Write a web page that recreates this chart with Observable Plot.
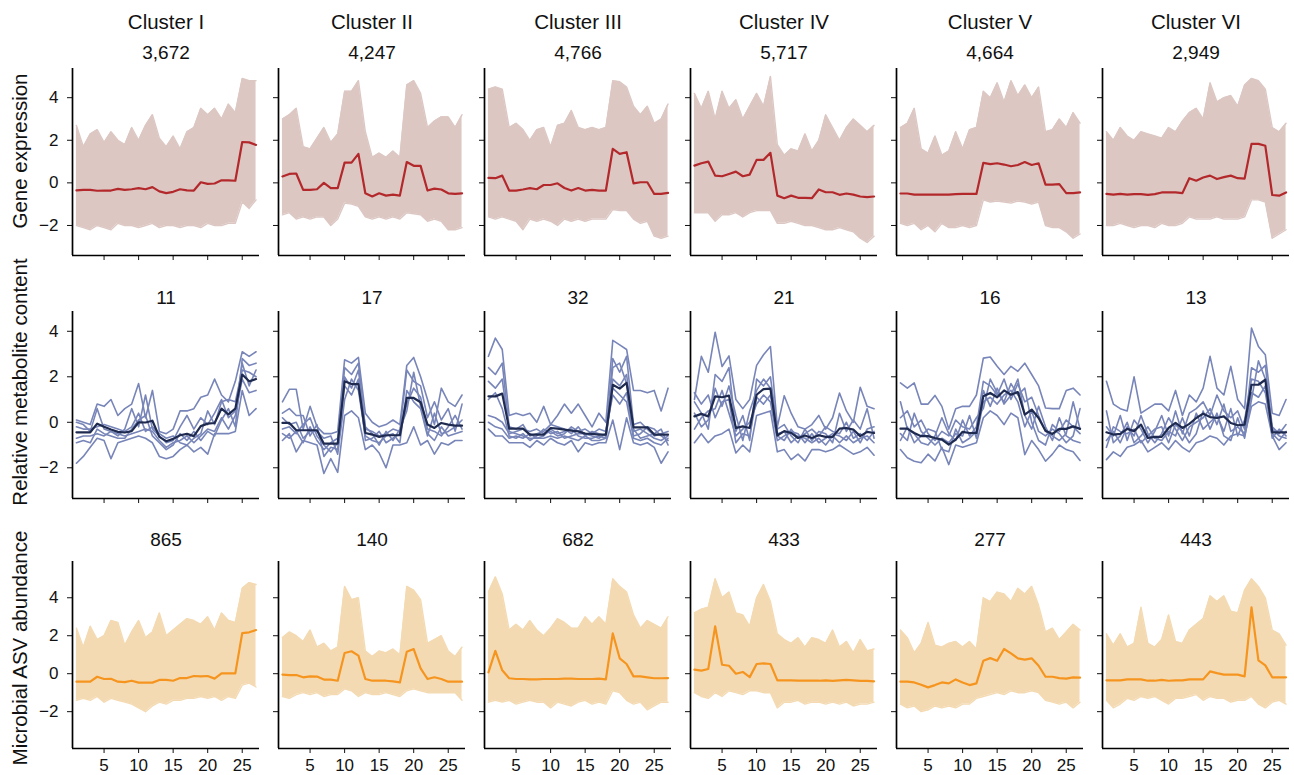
<!DOCTYPE html>
<html><head><meta charset="utf-8">
<script src="https://cdn.jsdelivr.net/npm/d3@7"></script>
<script src="https://cdn.jsdelivr.net/npm/@observablehq/plot@0.6"></script>
<style>
body{margin:0;background:#fff;font-family:"Liberation Sans",Arial,sans-serif;}
#root{position:relative;width:1294px;height:775px;}
</style>
</head><body><div id="root"></div>
<script>
// ---------------- data ----------------
const clusters = ["Cluster I","Cluster II","Cluster III","Cluster IV","Cluster V","Cluster VI"];
const rowTitles = ["Gene expression","Relative metabolite content","Microbial ASV abundance"];
const timepoints = [1,2,3,4,5,6,7,8,9,10,11,12,13,14,15,16,17,18,19,20,21,22,23,24,25,26,27];
const xTicks = [5,10,15,20,25];
const yTicks = [-2,0,2,4];

const geneCounts = [3672,4247,4766,5717,4664,2949];
const metCounts = [11,17,32,21,16,13];
const asvCounts = [865,140,682,433,277,443];

// Gene expression: cluster mean and envelope of all genes
const geneMean = [
 [-0.35,-0.33,-0.33,-0.37,-0.36,-0.36,-0.28,-0.33,-0.3,-0.25,-0.3,-0.2,-0.4,-0.48,-0.42,-0.3,-0.35,-0.36,0.03,-0.05,-0.03,0.12,0.12,0.1,1.92,1.9,1.78],
 [0.3,0.42,0.44,-0.33,-0.33,-0.3,0.0,-0.25,-0.25,0.95,0.95,1.36,-0.49,-0.64,-0.49,-0.6,-0.55,-0.6,0.98,0.8,0.8,-0.36,-0.27,-0.31,-0.49,-0.52,-0.49],
 [0.23,0.22,0.34,-0.36,-0.36,-0.31,-0.25,-0.3,-0.1,-0.1,-0.02,-0.24,-0.36,-0.24,-0.36,-0.33,-0.36,-0.36,1.6,1.36,1.44,-0.02,0.03,0.03,-0.52,-0.52,-0.47],
 [0.81,0.92,1.0,0.34,0.31,0.42,0.53,0.31,0.39,1.08,1.08,1.41,-0.6,-0.72,-0.6,-0.7,-0.7,-0.72,-0.31,-0.44,-0.44,-0.56,-0.5,-0.55,-0.64,-0.67,-0.64],
 [-0.5,-0.5,-0.55,-0.55,-0.55,-0.55,-0.55,-0.55,-0.53,-0.52,-0.52,-0.52,0.94,0.88,0.92,0.86,0.78,0.84,0.98,0.84,0.92,-0.08,-0.08,-0.06,-0.48,-0.48,-0.45],
 [-0.52,-0.55,-0.52,-0.55,-0.53,-0.53,-0.56,-0.53,-0.45,-0.45,-0.45,-0.48,0.22,0.1,0.25,0.34,0.18,0.27,0.34,0.22,0.2,1.83,1.83,1.74,-0.57,-0.6,-0.45]
];
const geneUpper = [
 [2.7,1.7,2.3,2.5,1.9,2.4,2.0,1.8,2.6,2.0,2.7,3.2,2.1,1.7,2.2,1.6,2.4,2.6,3.5,3.2,3.5,3.0,3.7,3.3,4.9,4.8,4.8],
 [3.0,3.2,3.5,1.7,1.6,2.1,2.6,1.9,2.3,4.3,4.3,4.8,2.4,1.2,1.4,1.2,1.5,1.2,4.6,4.8,4.2,2.6,2.9,3.1,3.1,2.6,3.2],
 [4.4,4.5,4.4,2.6,2.8,2.5,2.0,2.5,2.6,1.7,2.7,2.8,3.4,2.6,2.5,2.6,2.5,2.6,4.8,4.75,4.5,3.6,3.2,3.6,2.8,3.0,3.7],
 [4.2,3.5,4.3,3.0,4.3,3.5,3.9,3.0,3.6,4.2,3.6,5.0,1.8,1.3,1.6,1.5,2.3,1.5,2.0,3.2,2.6,2.0,2.6,3.0,2.7,2.4,2.7],
 [2.6,2.8,3.5,1.6,1.4,2.2,1.3,1.5,2.4,1.6,2.5,2.6,4.3,4.0,4.7,3.8,4.8,4.1,4.6,4.0,4.5,2.4,2.5,3.0,2.6,3.3,2.8],
 [2.4,2.0,2.6,2.2,2.0,2.4,2.3,2.2,2.1,2.6,2.4,2.9,3.3,3.5,3.0,4.7,3.8,4.0,4.1,3.6,4.6,4.9,4.8,4.4,2.6,2.4,2.8]
];
const geneLower = [
 [-2.0,-2.1,-2.2,-2.0,-2.1,-2.2,-1.9,-2.0,-2.0,-2.1,-2.0,-1.9,-2.1,-2.0,-2.0,-2.1,-2.0,-2.0,-2.1,-1.9,-2.0,-2.0,-1.9,-1.9,-0.9,-1.2,-0.8],
 [-1.5,-1.4,-1.7,-1.6,-1.7,-1.6,-1.6,-2.0,-1.7,-0.95,-1.0,-1.1,-1.6,-1.7,-1.6,-1.7,-1.6,-1.7,-1.4,-1.45,-1.5,-1.8,-1.7,-1.8,-2.2,-2.2,-2.1],
 [-1.6,-1.7,-1.6,-1.7,-1.8,-2.2,-1.7,-1.8,-1.7,-1.8,-2.0,-1.7,-1.8,-1.7,-1.8,-1.7,-1.7,-1.7,-1.25,-1.3,-1.3,-1.7,-1.9,-1.8,-2.5,-2.6,-2.5],
 [-1.4,-1.4,-1.4,-1.8,-1.5,-1.5,-1.4,-1.6,-1.4,-1.3,-1.3,-1.3,-1.9,-1.9,-1.8,-1.9,-2.0,-2.0,-2.1,-2.2,-2.2,-2.1,-2.2,-2.3,-2.6,-2.8,-2.5],
 [-1.9,-2.0,-1.9,-2.2,-2.0,-2.3,-1.9,-2.1,-2.1,-2.0,-2.1,-2.0,-0.8,-0.9,-0.85,-0.9,-0.95,-0.85,-0.9,-1.0,-0.9,-2.0,-2.1,-2.1,-2.3,-2.6,-2.4],
 [-2.0,-2.0,-1.9,-2.0,-2.1,-2.0,-2.0,-2.1,-1.9,-2.0,-2.0,-1.9,-1.6,-1.7,-1.7,-1.7,-1.6,-1.7,-1.7,-1.7,-1.6,-0.8,-0.8,-0.9,-2.6,-2.4,-2.2]
];

// Metabolites: cluster mean and individual metabolite profiles
const metMean = [
 [-0.44,-0.44,-0.44,-0.06,-0.2,-0.32,-0.42,-0.45,-0.39,0.0,-0.01,0.07,-0.64,-0.83,-0.73,-0.57,-0.51,-0.61,-0.17,-0.06,-0.03,0.6,0.35,0.6,2.1,1.8,1.9],
 [-0.03,-0.03,-0.35,-0.35,-0.35,-0.35,-0.94,-0.94,-0.94,1.8,1.68,1.68,-0.47,-0.54,-0.64,-0.57,-0.57,-0.57,1.07,1.07,0.88,-0.1,-0.25,-0.03,-0.1,-0.15,-0.15],
 [1.14,1.14,1.26,-0.28,-0.28,-0.28,-0.54,-0.54,-0.54,-0.25,-0.28,-0.32,-0.37,-0.4,-0.5,-0.51,-0.54,-0.54,1.65,1.48,1.73,-0.22,-0.22,-0.22,-0.54,-0.54,-0.54],
 [0.26,0.37,0.26,1.14,1.1,1.17,-0.25,-0.18,-0.25,1.21,1.46,1.48,-0.58,-0.39,-0.47,-0.69,-0.58,-0.69,-0.57,-0.64,-0.64,-0.28,-0.25,-0.32,-0.61,-0.42,-0.47],
 [-0.28,-0.28,-0.47,-0.61,-0.61,-0.69,-0.76,-0.98,-0.76,-0.42,-0.47,-0.47,1.14,1.29,1.1,1.4,1.21,1.33,0.34,0.56,0.19,-0.37,-0.51,-0.29,-0.29,-0.18,-0.29],
 [-0.44,-0.54,-0.51,-0.29,-0.39,-0.1,-0.69,-0.64,-0.64,-0.25,-0.03,-0.25,-0.07,0.19,0.38,0.23,0.19,0.26,-0.03,-0.13,-0.1,1.65,1.65,1.87,-0.44,-0.44,-0.44]
];
const metLines = [
 [
  [0.1,0.0,-0.1,0.8,0.7,1.0,0.3,0.6,0.8,1.7,0.2,1.4,-0.4,-0.5,-0.3,0.5,0.5,0.6,1.1,1.2,1.9,1.2,0.9,1.8,3.1,2.9,3.1],
  [-1.8,-1.5,-1.1,-0.7,-0.8,-1.6,-0.9,-0.8,-0.7,-0.6,-0.7,-0.9,-1.5,-1.6,-1.5,-1.2,-1.0,-1.3,-1.1,-1.4,-0.5,-0.5,-0.5,-0.4,1.4,0.3,0.6],
  [0.0,-0.1,-0.4,0.6,-0.3,-0.4,-0.6,-0.3,0.6,-0.2,1.2,-0.3,-0.6,-0.9,-0.8,-0.2,0.3,-0.3,0.2,-0.1,0.4,1.0,0.2,0.5,2.6,1.6,2.3],
  [-0.7,-0.6,-0.6,-0.5,-0.6,-0.4,-0.5,-0.6,-0.5,-0.4,-0.3,-0.4,-0.8,-1.1,-0.9,-0.8,-0.6,-0.9,-0.6,-0.3,-0.4,0.2,-0.3,0.3,1.9,1.3,1.4],
  [-0.2,-0.3,-0.3,-0.2,-0.1,-0.2,-0.3,-0.4,-0.2,0.4,-0.4,-0.2,-0.5,-0.7,-0.6,-0.9,-1.0,-0.7,-0.5,0.5,-0.1,0.9,1.0,0.9,2.3,2.2,2.0],
  [-0.9,-0.8,-0.9,-0.3,-0.5,-0.6,-0.7,-0.7,-0.3,0.1,0.3,-0.6,-0.9,-1.2,-1.0,-0.5,-0.8,-0.4,-0.8,-0.4,-0.6,0.1,0.6,-0.2,2.8,2.5,2.6]
 ],
 [
  [0.9,1.45,1.45,-0.3,0.7,-0.2,-0.5,-0.5,-0.4,2.75,2.6,2.85,0.4,0.0,-0.2,-0.1,0.1,-0.1,2.5,2.85,2.0,1.0,-0.1,1.5,0.9,0.7,1.2],
  [-0.8,-0.5,-1.3,-0.8,-0.9,-1.0,-2.25,-1.6,-2.2,0.3,0.5,0.2,-1.2,-1.0,-1.35,-2.0,-1.0,-1.0,-0.9,-0.2,-1.0,-0.8,-1.4,-0.9,-1.0,-0.8,-0.8],
  [0.4,0.6,0.3,0.3,-0.6,-0.1,-1.5,-1.1,-1.2,2.4,2.1,2.6,-0.3,-0.4,-0.6,-0.5,-0.3,-0.4,2.3,1.8,1.6,0.2,0.9,0.1,0.6,-0.4,0.8],
  [-0.3,-0.2,-0.5,-0.1,0.2,-0.6,-1.0,-1.3,-0.9,1.6,1.2,1.9,-0.8,-0.7,-0.4,-0.9,-0.7,-0.5,0.8,1.5,1.1,-0.3,-0.4,-0.6,-0.2,0.3,-0.3],
  [0.2,-0.1,0.0,-0.7,-0.4,-0.4,-0.7,-0.6,-1.4,1.0,1.9,1.4,-0.6,-0.8,-0.9,-0.6,-0.5,-0.9,1.4,0.9,0.6,-0.6,0.4,-0.5,-0.4,-0.2,0.1],
  [-0.5,-0.7,-0.4,-0.9,-0.2,-0.8,-1.2,-0.9,-0.7,2.0,1.5,2.3,-0.2,-0.5,-1.0,-0.4,-0.8,-0.3,0.5,2.2,0.7,-0.5,-0.8,-0.2,-0.6,-0.5,-0.4]
 ],
 [
  [2.9,3.7,3.2,0.3,0.4,0.3,0.4,0.0,0.7,-0.1,0.3,0.8,0.4,0.8,0.3,-0.2,0.4,0.0,3.6,3.4,3.2,1.4,1.4,1.3,1.4,0.5,1.5],
  [-0.3,-0.6,-0.6,-0.9,-0.9,-0.9,-1.1,-0.8,-1.0,-0.7,-0.9,-1.0,-0.8,-1.3,-0.9,-1.0,-0.9,-0.9,0.1,-1.2,0.2,-0.9,-1.0,-0.9,-1.1,-1.8,-1.3],
  [2.4,2.1,2.6,-0.2,-0.3,-0.1,-0.6,-0.5,-0.4,-0.1,-0.2,-0.3,-0.5,-0.2,-0.6,-0.4,-0.5,-0.6,2.8,2.2,2.9,-0.1,0.0,-0.3,-0.6,-0.5,-0.4],
  [1.8,1.5,1.9,-0.4,-0.5,-0.6,-0.7,-0.7,-0.6,-0.3,-0.5,-0.4,-0.3,-0.6,-0.7,-0.7,-0.6,-0.7,1.9,1.6,2.1,-0.4,-0.3,-0.5,-0.7,-0.8,-0.6],
  [0.3,0.2,0.0,-0.5,-0.4,-0.3,-0.4,-0.3,-0.5,-0.4,-0.6,-0.5,-0.2,-0.4,-0.3,-0.5,-0.3,-0.4,1.2,0.8,1.3,-0.6,-0.5,-0.2,-0.3,-0.6,-0.8],
  [1.0,1.3,0.6,-0.6,-0.7,-0.5,-0.8,-0.6,-0.3,-0.5,-0.4,-0.7,-0.6,-0.5,-0.5,-0.6,-0.7,-0.5,2.4,2.6,1.7,-0.3,-0.7,-0.6,-0.5,-0.3,-1.0],
  [0.0,-0.2,-0.3,-0.7,-0.6,-0.7,-0.5,-0.7,-0.7,-0.6,-0.7,-0.6,-0.7,-0.8,-0.6,-0.8,-0.8,-0.7,1.5,1.2,0.9,-0.7,-0.8,-0.7,-0.9,-1.0,-0.7]
 ],
 [
  [1.0,2.9,2.2,3.96,2.45,2.92,1.0,0.6,1.0,2.5,2.97,3.33,-0.2,1.17,0.4,-0.2,-0.3,-0.1,0.3,-0.3,0.2,1.29,0.5,0.0,1.54,0.7,0.6],
  [-0.9,-0.5,-0.9,-0.6,-0.5,-0.3,-1.35,-1.0,-1.3,0.3,0.4,0.5,-1.3,-1.2,-1.64,-1.4,-1.7,-1.2,-1.2,-1.3,-1.2,-1.0,-1.2,-1.4,-1.3,-1.1,-1.45],
  [0.9,0.4,-0.3,2.1,1.8,2.4,-0.4,0.3,-0.8,1.9,1.6,2.0,-0.3,-0.1,-0.6,-0.9,-0.3,-0.8,-0.4,-0.5,-0.9,0.4,-0.4,0.1,-0.3,0.6,-0.7],
  [-0.3,0.2,0.5,0.6,1.4,0.4,-0.6,-0.3,0.0,0.8,1.2,0.9,-0.8,-0.6,-0.4,-0.5,-0.9,-0.5,-0.9,-0.7,-0.5,-0.6,-0.8,-0.4,-0.9,-0.3,-0.2],
  [0.4,-0.2,0.1,1.5,0.7,1.6,0.3,-0.8,0.5,1.4,1.9,1.5,-0.6,-0.8,-0.3,-0.7,-0.5,-0.3,-0.6,-0.2,-0.4,-0.5,0.0,-0.7,-0.5,-0.8,-0.4],
  [1.3,0.8,1.2,0.2,0.9,1.0,-0.9,-0.5,-0.6,1.1,0.8,1.2,-0.5,-0.4,-0.9,-0.6,-0.7,-0.9,-0.7,-1.0,-0.6,-0.9,-0.6,-0.9,-0.7,-0.6,-0.9]
 ],
 [
  [1.73,1.5,1.73,0.8,0.8,1.18,0.7,-0.3,0.6,0.7,0.7,1.2,2.82,2.87,2.46,2.1,2.46,2.24,2.6,2.1,1.6,0.63,0.6,0.6,1.4,1.5,1.2],
  [-1.2,-1.56,-1.71,-1.78,-1.4,-1.7,-1.1,-1.86,-1.0,-1.1,-1.0,-0.9,0.2,0.5,0.3,-0.1,0.4,0.2,-1.42,-0.8,-1.2,-1.71,-1.4,-1.0,-1.2,-1.3,-1.68],
  [0.9,-0.3,-0.5,-0.9,-1.0,-0.6,0.2,-0.5,-0.8,0.1,-0.6,-0.2,1.8,1.6,1.2,1.9,1.0,1.7,0.9,1.1,0.3,-0.4,-0.6,-0.8,-0.5,0.9,-0.3],
  [-0.5,-0.8,0.4,-0.4,-0.7,-1.0,-0.7,-0.9,-0.5,-0.6,0.3,-0.7,0.9,1.1,0.8,1.2,1.4,0.9,-0.2,0.5,-0.4,-0.6,-0.3,-0.5,-0.9,-0.6,0.6],
  [-0.8,-0.2,-0.9,-0.6,-0.3,-0.4,-1.2,-1.3,-0.3,-0.9,-0.7,-0.4,1.4,0.7,1.5,0.8,1.2,1.9,0.3,-0.3,0.7,-0.2,-0.8,0.2,-0.6,-0.8,-0.9],
  [0.2,0.5,-0.2,0.1,-0.5,-0.8,-0.4,-0.6,0.1,-0.2,-0.3,0.2,0.6,1.9,1.3,0.9,1.7,1.2,1.5,0.0,-0.8,-1.0,-0.1,-0.4,0.1,-0.2,-0.5]
 ],
 [
  [1.8,0.8,0.6,0.5,2.0,0.4,0.6,0.8,0.8,0.5,1.4,0.3,1.2,0.9,1.5,2.9,1.5,1.2,2.46,1.0,0.6,4.14,3.33,2.97,0.4,0.3,1.0],
  [-1.64,-1.3,-1.5,-1.1,-1.0,-0.8,-1.3,-1.1,-0.9,-1.2,-0.8,-1.1,-1.3,-0.9,-0.8,-0.6,-0.7,-1.0,-0.6,-0.5,-0.6,0.7,0.9,0.8,-0.6,-1.2,-0.9],
  [-0.2,-0.6,0.3,-0.8,0.1,-0.3,-0.9,-0.4,0.3,-0.6,0.5,-0.5,0.4,0.6,0.9,0.3,1.2,0.5,0.2,0.5,-0.3,2.4,2.2,2.5,-0.2,-0.5,-0.1],
  [-0.8,-0.4,-0.9,-0.2,-0.6,0.3,-0.5,-0.9,-0.5,0.2,-0.3,-0.8,-0.2,0.0,0.2,0.6,-0.1,0.8,-0.4,-0.2,-0.5,1.3,1.1,1.6,-0.7,-0.3,-0.6],
  [0.5,-0.9,-0.6,0.0,-0.9,-0.6,-0.2,-0.7,-0.8,-0.4,-0.6,0.2,-0.6,0.4,-0.3,0.0,0.3,-0.4,0.6,-0.6,0.1,1.9,1.8,1.3,-0.5,-0.8,-0.4],
  [-1.1,-0.2,-0.4,-0.5,-0.3,-0.9,-0.6,-0.3,-0.2,-0.9,-0.1,-0.4,-0.9,-0.5,0.5,-0.3,0.4,-0.6,-0.8,0.2,-0.7,1.0,2.7,1.9,-0.3,-0.6,-0.7]
 ]
];

// Microbial ASVs: cluster mean and envelope of all ASVs
const asvMean = [
 [-0.42,-0.42,-0.42,-0.16,-0.28,-0.27,-0.42,-0.44,-0.37,-0.47,-0.47,-0.47,-0.33,-0.33,-0.37,-0.23,-0.23,-0.12,-0.14,-0.12,-0.26,0.02,0.02,0.02,2.14,2.18,2.3],
 [-0.05,-0.08,-0.07,-0.19,-0.14,-0.15,-0.31,-0.31,-0.37,1.09,1.18,0.95,-0.28,-0.37,-0.37,-0.37,-0.4,-0.46,1.16,1.3,0.28,-0.28,-0.19,-0.28,-0.42,-0.42,-0.42],
 [0.07,1.2,0.18,-0.24,-0.28,-0.28,-0.3,-0.3,-0.28,-0.28,-0.28,-0.26,-0.26,-0.28,-0.28,-0.28,-0.26,-0.3,2.12,0.81,0.51,-0.14,-0.14,-0.19,-0.24,-0.24,-0.23],
 [0.21,0.16,0.25,2.49,0.47,0.42,0.0,0.09,-0.18,0.51,0.54,0.51,-0.35,-0.35,-0.35,-0.36,-0.36,-0.37,-0.37,-0.35,-0.38,-0.35,-0.33,-0.35,-0.38,-0.38,-0.4],
 [-0.42,-0.42,-0.46,-0.58,-0.72,-0.6,-0.46,-0.51,-0.3,-0.46,-0.6,-0.51,0.68,0.82,0.68,1.3,1.07,0.81,0.74,0.81,0.42,-0.16,-0.16,-0.23,-0.26,-0.19,-0.21],
 [-0.35,-0.35,-0.35,-0.3,-0.3,-0.3,-0.37,-0.37,-0.33,-0.37,-0.35,-0.35,-0.3,-0.3,-0.3,0.12,0.03,-0.05,-0.05,-0.05,-0.14,3.49,0.7,0.44,-0.19,-0.19,-0.19]
];
const asvUpper = [
 [2.4,1.4,2.5,1.8,2.0,2.8,2.7,1.5,2.2,2.8,1.9,2.2,3.2,2.0,2.3,2.6,2.9,2.8,2.6,3.0,2.3,3.2,2.8,2.7,4.5,4.8,4.7],
 [1.9,2.2,2.0,1.7,2.3,1.4,1.6,1.2,1.4,4.6,3.9,4.0,1.2,0.9,1.2,1.1,1.3,1.0,4.6,4.4,3.9,1.6,1.8,2.0,1.2,0.9,1.4],
 [4.3,5.1,4.2,2.3,2.6,2.3,2.8,2.3,2.0,2.4,2.9,2.7,2.4,2.4,3.0,2.6,3.0,2.6,5.0,4.6,4.3,3.1,2.4,2.8,2.6,2.4,3.0],
 [3.2,3.4,3.5,5.0,4.0,4.3,3.2,3.1,2.5,4.0,4.7,3.8,2.1,1.8,1.6,1.9,1.4,1.9,1.8,1.6,2.3,1.4,1.7,1.1,1.8,1.2,1.3],
 [2.3,1.9,1.1,1.6,2.7,1.5,1.4,1.6,1.7,1.4,1.7,1.3,4.0,3.8,4.3,4.2,3.8,4.5,4.2,4.6,3.6,2.2,2.4,1.8,2.2,2.6,2.3],
 [2.1,1.5,2.1,1.4,1.6,3.5,1.6,1.4,1.8,3.1,1.7,1.6,2.3,2.6,2.9,4.1,3.8,4.1,3.3,3.2,4.4,5.0,4.6,4.0,2.3,2.1,1.5]
];
const asvLower = [
 [-1.4,-1.3,-1.4,-1.2,-1.5,-1.3,-1.4,-1.5,-1.6,-1.8,-2.0,-1.7,-1.5,-1.6,-1.4,-1.4,-1.3,-1.3,-1.2,-1.3,-1.2,-1.4,-1.2,-1.3,-0.6,-0.5,-0.7],
 [-1.2,-1.3,-1.1,-1.0,-1.1,-1.0,-1.2,-1.1,-1.1,-0.8,-0.9,-1.2,-1.0,-1.1,-1.1,-1.0,-1.1,-1.2,-0.9,-0.8,-0.9,-1.0,-1.0,-1.0,-1.0,-1.0,-1.4],
 [-1.5,-1.4,-1.5,-1.4,-1.6,-1.5,-1.4,-1.5,-1.5,-1.8,-1.5,-1.6,-1.7,-1.5,-1.4,-1.6,-1.5,-1.6,-0.9,-1.0,-1.4,-1.6,-1.5,-1.9,-1.7,-1.5,-1.5],
 [-1.0,-1.2,-1.3,-1.0,-1.2,-0.9,-1.0,-1.1,-0.9,-0.9,-1.0,-1.0,-1.8,-1.5,-1.5,-1.4,-1.6,-1.5,-1.5,-1.6,-1.5,-1.6,-1.5,-1.7,-1.6,-1.6,-1.5],
 [-1.6,-1.8,-1.7,-2.0,-1.9,-1.7,-1.8,-1.7,-1.8,-1.6,-1.6,-1.3,-1.2,-1.1,-1.0,-1.1,-0.9,-1.0,-1.0,-0.9,-1.0,-1.4,-1.5,-1.6,-1.5,-1.8,-1.5],
 [-1.4,-1.8,-1.6,-1.3,-1.4,-1.2,-1.3,-1.2,-1.4,-1.6,-1.3,-1.3,-1.2,-1.1,-1.4,-1.2,-1.3,-1.3,-1.5,-1.4,-1.4,-1.2,-1.6,-1.8,-1.5,-1.4,-1.6]
];

// ---------------- layout & style ----------------
const FONT = '"Liberation Sans", Arial, Helvetica, sans-serif';
const xDomain = [0.43, 27.5];
const panelW = 187, panelH = 187;
const colLeft = [72, 278, 484, 690, 896, 1102];
const rows = [
  {domain:[-3.41,5.37], top:68,    countDy:-16,   type:"band",  fill:"#dcc7c3", mean:"#b3282b", titleY:151,
   counts:geneCounts, meanData:geneMean, upper:geneUpper, lower:geneLower},
  {domain:[-3.35,4.87], top:310.5, countDy:-14,   type:"lines", stroke:"#7885b8", mean:"#1e2a4f", titleY:382,
   counts:metCounts, meanData:metMean, lines:metLines},
  {domain:[-3.94,5.91], top:561,   countDy:-21.5, type:"band",  fill:"#f4dab2", mean:"#f5951f", titleY:648,
   counts:asvCounts, meanData:asvMean, upper:asvUpper, lower:asvLower}
];
const fmt = d3.format(",");
const root = document.getElementById("root");

// row titles (rotated y-axis labels)
const overlay = d3.select(root).append("svg")
  .attr("width",1294).attr("height",775)
  .style("position","absolute").style("left","0px").style("top","0px");
rows.forEach((row,i) => {
  overlay.append("text")
    .attr("transform",`translate(27,${row.titleY}) rotate(-90)`)
    .attr("text-anchor","middle")
    .attr("font-family",FONT).attr("font-size",20.5).attr("fill","#111")
    .text(rowTitles[i]);
});

function panel(r, c) {
  const row = rows[r];
  const mTop = r === 0 ? 62 : 36;
  const mLeft = c === 0 ? 56 : 10;
  const mRight = 6;
  const mBottom = r === 2 ? 26 : 10;
  const marks = [];
  if (row.type === "band") {
    const band = timepoints.map((t,i) => ({t, lo: row.lower[c][i], hi: row.upper[c][i]}));
    marks.push(Plot.areaY(band, {x:"t", y1:"lo", y2:"hi", fill:row.fill}));
    marks.push(Plot.lineY(band, {x:"t", y:"hi", stroke:row.fill, strokeWidth:1.4}));
    marks.push(Plot.lineY(band, {x:"t", y:"lo", stroke:row.fill, strokeWidth:1.4}));
  } else {
    const ld = row.lines[c].flatMap((vals,k) => timepoints.map((t,i) => ({t, v: vals[i], id: k})));
    marks.push(Plot.lineY(ld, {x:"t", y:"v", z:"id", stroke:row.stroke, strokeWidth:1.6}));
  }
  const md = timepoints.map((t,i) => ({t, v: row.meanData[c][i]}));
  marks.push(Plot.lineY(md, {x:"t", y:"v", stroke:row.mean, strokeWidth:2.2}));
  marks.push(Plot.ruleX([xDomain[0]], {stroke:"#000", strokeWidth:1.7}));
  marks.push(Plot.ruleY([row.domain[0]], {stroke:"#000", strokeWidth:1.7}));
  marks.push(Plot.text([row.counts[c]], {text: d => fmt(d), frameAnchor:"top", lineAnchor:"middle",
    dy: row.countDy, fontSize:19, fill:"#111"}));
  if (r === 0) {
    marks.push(Plot.text([clusters[c]], {text: d => d, frameAnchor:"top", lineAnchor:"middle",
      dy:-46, fontSize:20.5, fill:"#111"}));
  }
  const xOpts = {domain:xDomain, ticks:xTicks, tickSize:5, tickPadding:5, label:null};
  if (r !== 2) xOpts.tickFormat = () => "";
  const yOpts = {domain:row.domain, ticks:yTicks, tickSize:5, tickPadding:9, label:null};
  if (c !== 0) yOpts.tickFormat = () => "";
  const svg = Plot.plot({
    width: mLeft + panelW + mRight,
    height: mTop + panelH + mBottom,
    marginLeft: mLeft, marginRight: mRight, marginTop: mTop, marginBottom: mBottom,
    x: xOpts, y: yOpts,
    style: {fontFamily: FONT, fontSize: "17px", color: "#111", background: "transparent", overflow: "visible"},
    marks
  });
  svg.style.position = "absolute";
  svg.style.left = (colLeft[c] - mLeft) + "px";
  svg.style.top = (row.top - mTop) + "px";
  root.appendChild(svg);
}
for (let r = 0; r < 3; r++) for (let c = 0; c < 6; c++) panel(r, c);
</script>
</body></html>
